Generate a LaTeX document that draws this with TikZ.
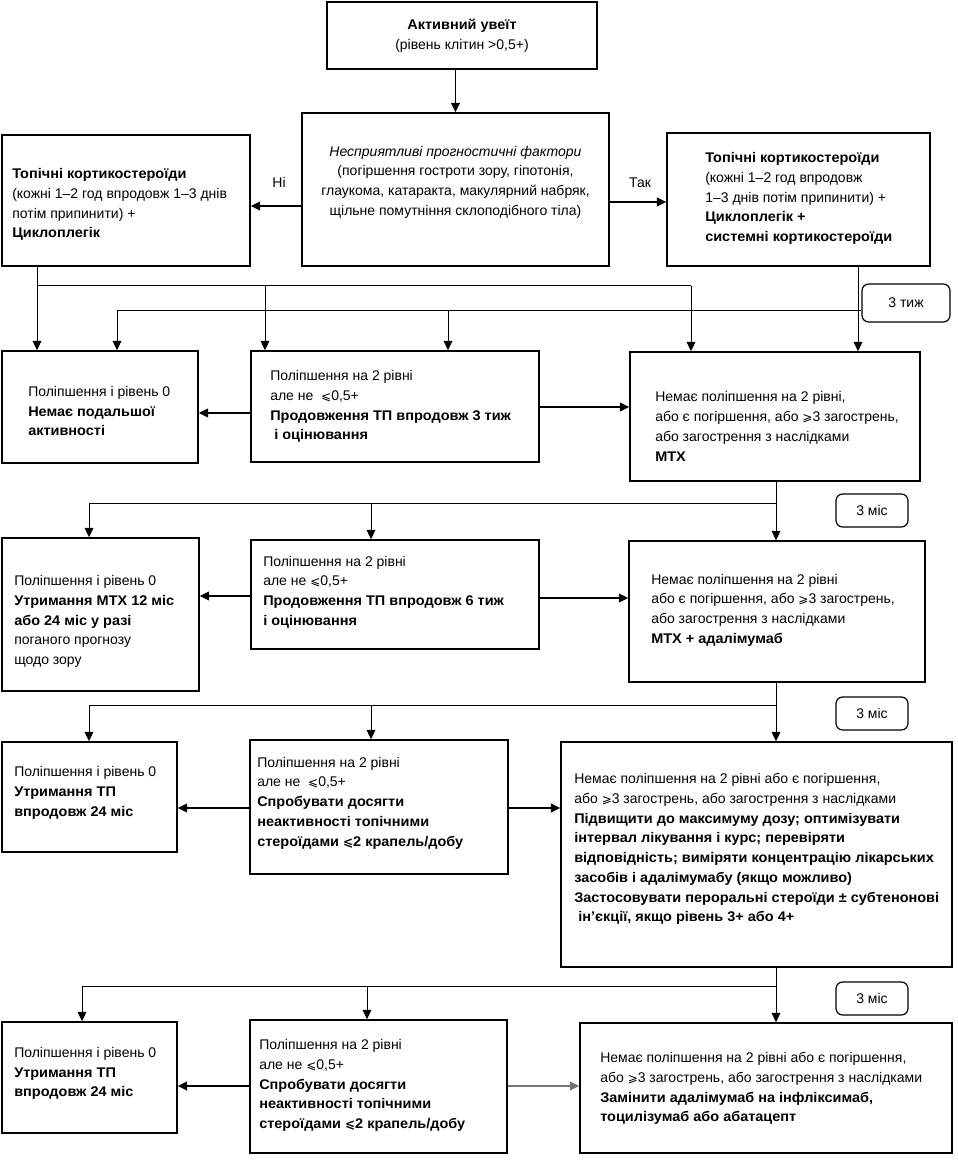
\documentclass[tikz,border=0pt]{standalone}
\usepackage{fontspec}
\setmainfont{Liberation Sans}[BoldFeatures={FakeStretch=1.035}]
\newfontfamily\symf{DejaVu Sans}
\usetikzlibrary{arrows.meta,fit}
\newcommand\lesl{{\symf\fontsize{9}{14.8}\selectfont ⩽}}
\newcommand\gesl{{\symf\fontsize{9}{14.8}\selectfont ⩾}}
\begin{document}
\begin{tikzpicture}[x=0.75pt,y=-0.75pt,
  box/.style={draw, line width=1.1pt, inner sep=0pt},
  tbox/.style={draw, line width=0.9pt, rounded corners=5pt, inner sep=0pt},
  txt/.style={inner sep=0pt, align=left, anchor=west, font=\fontsize{10.5}{14.8}\selectfont},
  ctxt/.style={inner sep=0pt, align=center, font=\fontsize{10.5}{14.8}\selectfont},
  arr/.style={-{Triangle[length=7pt,width=6.5pt]}, line width=0.75pt},
  harr/.style={-{Triangle[length=7pt,width=6.5pt]}, line width=1.3pt},
  ln/.style={line width=0.75pt}]
\useasboundingbox (0,0) rectangle (957,1169);
% ---------- boxes ----------
\node[box, fit={(327,2) (597,69)}] (A) {};
\node[box, fit={(302,113) (609,266)}] (B) {};
\node[box, fit={(2,135) (250,266)}] (L1) {};
\node[box, fit={(667,133) (930,266)}] (R1) {};
\node[box, fit={(2,351) (198,463)}] (P1) {};
\node[box, fit={(251,351) (539,462)}] (P2) {};
\node[box, fit={(630,352) (920,481)}] (Q1) {};
\node[box, fit={(2,538) (199,691)}] (L3) {};
\node[box, fit={(251,540) (539,649)}] (M3) {};
\node[box, fit={(629,541) (925,682)}] (R3) {};
\node[box, fit={(2,742) (177,852)}] (L4) {};
\node[box, fit={(250,740) (508,874)}] (M4) {};
\node[box, fit={(561,742) (952,967)}] (R4) {};
\node[box, fit={(2,1022) (177,1133)}] (L5) {};
\node[box, fit={(250,1020) (507,1153)}] (M5) {};
\node[box, fit={(580,1023) (952,1153)}] (R5) {};
\node[tbox, fit={(862,284) (950,322)}] (T1) {};
\node[tbox, fit={(836,494) (908,527)}] (T2) {};
\node[tbox, fit={(836,697) (908,730)}] (T3) {};
\node[tbox, fit={(836,982) (908,1015)}] (T4) {};
% ---------- texts ----------
\node[ctxt] (At) at (462,35.5) {\textbf{Активний увеїт}\\(рівень клітин >0,5+)};
\node[ctxt] (Bt) at (455.5,182) {\textit{Несприятливі прогностичні фактори}\\(погіршення гостроти зору, гіпотонія,\\глаукома, катаракта, макулярний набряк,\\щільне помутніння склоподібного тіла)};
\node[txt] (L1t) at (12,204.5) {\textbf{Топічні кортикостероїди}\\(кожні 1–2 год впродовж 1–3 днів\\потім припинити) +\\\textbf{Циклоплегік}};
\node[txt] (R1t) at (705,198.5) {\textbf{Топічні кортикостероїди}\\(кожні 1–2 год впродовж\\1–3 днів потім припинити) +\\\textbf{Циклоплегік +}\\\textbf{системні кортикостероїди}};
\node[txt] (P1t) at (28,411) {Поліпшення і рівень 0\\\textbf{Немає подальшої}\\\textbf{активності}};
\node[txt] (P2t) at (270,406.5) {Поліпшення на 2 рівні\\але не \ \lesl0,5+\\\textbf{Продовження ТП впродовж 3 тиж}\\\textbf{\ і оцінювання}};
\node[txt] (Q1t) at (655,426.5) {Немає поліпшення на 2 рівні,\\або є погіршення, або \gesl3 загострень,\\або загострення з наслідками\\\textbf{МТХ}};
\node[txt] (L3t) at (14,621.5) {Поліпшення і рівень 0\\\textbf{Утримання МТХ 12 міс}\\\textbf{або 24 міс у разі}\\поганого прогнозу\\щодо зору};
\node[txt] (M3t) at (263,592) {Поліпшення на 2 рівні\\але не \lesl0,5+\\\textbf{Продовження ТП впродовж 6 тиж}\\\textbf{і оцінювання}};
\node[txt] (R3t) at (651,610) {Немає поліпшення на 2 рівні\\або є погіршення, або \gesl3 загострень,\\або загострення з наслідками\\\textbf{МТХ + адалімумаб}};
\node[txt] (L4t) at (14,793) {Поліпшення і рівень 0\\\textbf{Утримання ТП}\\\textbf{впродовж 24 міс}};
\node[txt] (M4t) at (257,803) {Поліпшення на 2 рівні\\але не \ \lesl0,5+\\\textbf{Спробувати досягти}\\\textbf{неактивності топічними}\\\textbf{стероїдами \lesl2 крапель/добу}};
\node[txt] (R4t) at (574,849) {Немає поліпшення на 2 рівні або є погіршення,\\або \gesl3 загострень, або загострення з наслідками\\\textbf{Підвищити до максимуму дозу; оптимізувати}\\\textbf{інтервал лікування і курс; перевіряти}\\\textbf{відповідність; виміряти концентрацію лікарських}\\\textbf{засобів і адалімумабу (якщо можливо)}\\\textbf{Застосовувати пероральні стероїди ± субтенонові}\\\textbf{\ ін’єкції, якщо рівень 3+ або 4+}};
\node[txt] (L5t) at (14,1073.5) {Поліпшення і рівень 0\\\textbf{Утримання ТП}\\\textbf{впродовж 24 міс}};
\node[txt] (M5t) at (259,1085.5) {Поліпшення на 2 рівні\\але не \lesl0,5+\\\textbf{Спробувати досягти}\\\textbf{неактивності топічними}\\\textbf{стероїдами \lesl2 крапель/добу}};
\node[txt] (R5t) at (600,1088.5) {Немає поліпшення на 2 рівні або є погіршення,\\або \gesl3 загострень, або загострення з наслідками\\\textbf{Замінити адалімумаб на інфліксимаб,}\\\textbf{тоцилізумаб або абатацепт}};
\node[ctxt] (T1t) at (T1) {3 тиж};
\node[ctxt] (T2t) at (T2) {3 міс};
\node[ctxt] (T3t) at (T3) {3 міс};
\node[ctxt] (T4t) at (T4) {3 міс};
\node[ctxt] (ni) at (279,182) {Ні};
\node[ctxt] (tak) at (640,183) {Так};
% ---------- connectors ----------
\draw[harr] (A.south -| B.north) -- (B.north);
\coordinate (yNi) at (0,206);
\coordinate (yTak) at (0,202);
\draw[harr] (B.west |- yNi) -- (L1.east |- yNi);
\draw[harr] (B.east |- yTak) -- (R1.west |- yTak);
% row 1 -> 2
\coordinate (a1) at (37,286); \coordinate (a2) at (265,286); \coordinate (a3) at (691,286);
\draw[arr] (L1.south -| a1) -- (P1.north -| a1);
\draw[ln] (a1) -- (a3);
\draw[arr] (a2) -- (P2.north -| a2);
\draw[arr] (a3) -- (Q1.north -| a3);
\coordinate (b0) at (858,310); \coordinate (b1) at (117,310); \coordinate (b2) at (448,310);
\draw[arr] (R1.south -| b0) -- (Q1.north -| b0);
\draw[ln] (T1.west |- b1) -- (b1);
\draw[arr] (b1) -- (P1.north -| b1);
\draw[arr] (b2) -- (P2.north -| b2);
\coordinate (c1) at (0,413); \coordinate (c2) at (0,407);
\draw[harr] (P2.west |- c1) -- (P1.east |- c1);
\draw[harr] (P2.east |- c2) -- (Q1.west |- c2);
% row 2 -> 3
\coordinate (d0) at (776,503); \coordinate (d1) at (89,503); \coordinate (d2) at (371,503);
\draw[arr] (Q1.south -| d0) -- (R3.north -| d0);
\draw[ln] (d0) -- (d1);
\draw[arr] (d1) -- (L3.north -| d1);
\draw[arr] (d2) -- (M3.north -| d2);
\coordinate (g1) at (0,596); \coordinate (g2) at (0,598);
\draw[harr] (M3.west |- g1) -- (L3.east |- g1);
\draw[harr] (M3.east |- g2) -- (R3.west |- g2);
% row 3 -> 4
\coordinate (e0) at (776,705); \coordinate (e1) at (89,705); \coordinate (e2) at (371,705);
\draw[arr] (R3.south -| e0) -- (R4.north -| e0);
\draw[ln] (e0) -- (e1);
\draw[arr] (e1) -- (L4.north -| e1);
\draw[arr] (e2) -- (M4.north -| e2);
\coordinate (h1) at (0,808);
\draw[harr] (M4.west |- h1) -- (L4.east |- h1);
\draw[harr] (M4.east |- h1) -- (R4.west |- h1);
% row 4 -> 5
\coordinate (f0) at (776,986); \coordinate (f1) at (82,986); \coordinate (f2) at (367,986);
\draw[arr] (R4.south -| f0) -- (R5.north -| f0);
\draw[ln] (f0) -- (f1);
\draw[arr] (f1) -- (L5.north -| f1);
\draw[arr] (f2) -- (M5.north -| f2);
\coordinate (k1) at (0,1086);
\draw[harr] (M5.west |- k1) -- (L5.east |- k1);
\draw[harr, draw=black!55, fill=black] (M5.east |- k1) -- (R5.west |- k1);
\end{tikzpicture}
\end{document}
